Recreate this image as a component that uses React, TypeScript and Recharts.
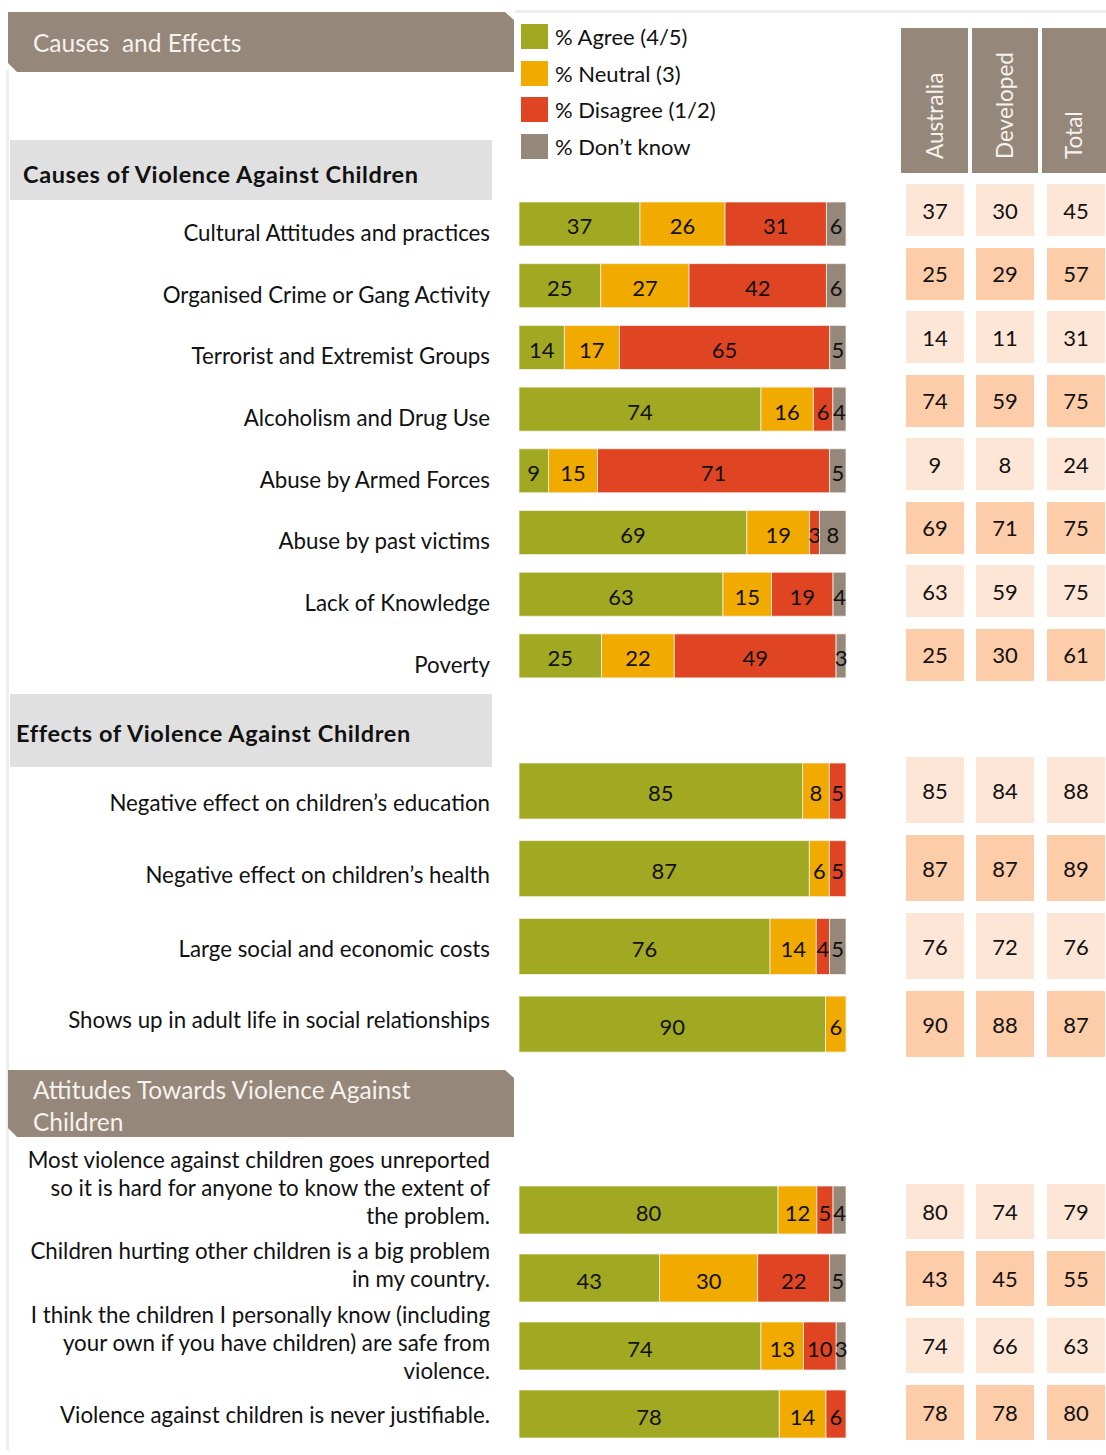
import React from 'react';
import { BarChart, Bar, XAxis, YAxis } from 'recharts';

// ---- data ----
const causeLabels = [
    ['Cultural Attitudes and practices'],
    ['Organised Crime or Gang Activity'],
    ['Terrorist and Extremist Groups'],
    ['Alcoholism and Drug Use'],
    ['Abuse by Armed Forces'],
    ['Abuse by past victims'],
    ['Lack of Knowledge'],
    ['Poverty'],
];
const causeAgree = [37, 25, 14, 74, 9, 69, 63, 25];
const causeNeutral = [26, 27, 17, 16, 15, 19, 15, 22];
const causeDisagree = [31, 42, 65, 6, 71, 3, 19, 49];
const causeDontKnow = [6, 6, 5, 4, 5, 8, 4, 3];
const causeAustralia = [37, 25, 14, 74, 9, 69, 63, 25];
const causeDeveloped = [30, 29, 11, 59, 8, 71, 59, 30];
const causeTotal = [45, 57, 31, 75, 24, 75, 75, 61];

const effectLabels = [
    ['Negative effect on children’s education'],
    ['Negative effect on children’s health'],
    ['Large social and economic costs'],
    ['Shows up in adult life in social relationships'],
];
const effectAgree = [85, 87, 76, 90];
const effectNeutral = [8, 6, 14, 6];
const effectDisagree = [5, 5, 4, 0];
const effectDontKnow = [0, 0, 5, 0];
const effectAustralia = [85, 87, 76, 90];
const effectDeveloped = [84, 87, 72, 88];
const effectTotal = [88, 89, 76, 87];

const attitudeLabels = [
    ['Most violence against children goes unreported', 'so it is hard for anyone to know the extent of', 'the problem.'],
    ['Children hurting other children is a big problem', 'in my country.'],
    ['I think the children I personally know (including', 'your own if you have children) are safe from', 'violence.'],
    ['Violence against children is never justifiable.'],
];
const attitudeAgree = [80, 43, 74, 78];
const attitudeNeutral = [12, 30, 13, 14];
const attitudeDisagree = [5, 22, 10, 6];
const attitudeDontKnow = [4, 5, 3, 0];
const attitudeAustralia = [80, 43, 74, 78];
const attitudeDeveloped = [74, 45, 66, 78];
const attitudeTotal = [79, 55, 63, 80];

const legendItems = ['% Agree (4/5)', '% Neutral (3)', '% Disagree (1/2)', '% Don’t know'];
const tableHeaders = ['Australia', 'Developed', 'Total'];

// ---- styling ----
const FONT = 'Lato, "Noto Sans", sans-serif';
const COLORS = { agree: '#a1a821', neutral: '#f1aa00', disagree: '#e04523', dk: '#958779' };
const TAUPE = '#958779';
const CELL_LIGHT = '#fee6d7';
const CELL_DARK = '#fdcca9';
const KEYS = ['agree', 'neutral', 'disagree', 'dk'] as const;

type Row = { name: string; lines: string[]; agree: number; neutral: number; disagree: number; dk: number };

function buildRows(labels: string[][], a: number[], n: number[], d: number[], k: number[]): Row[] {
    return labels.map((lines, i) => ({
        name: lines.join(' '),
        lines,
        agree: a[i],
        neutral: n[i],
        disagree: d[i],
        dk: k[i],
    }));
}

const causeRows = buildRows(causeLabels, causeAgree, causeNeutral, causeDisagree, causeDontKnow);
const effectRows = buildRows(effectLabels, effectAgree, effectNeutral, effectDisagree, effectDontKnow);
const attitudeRows = buildRows(attitudeLabels, attitudeAgree, attitudeNeutral, attitudeDisagree, attitudeDontKnow);

function segmentShape(key: string) {
    return (props: any) => {
        const { x, y, width, height, payload, fill } = props;
        const v = payload ? payload[key] : 0;
        if (!v || !width) return <g />;
        return (
            <g>
                <rect x={x} y={y} width={width} height={height} fill={fill} stroke="#f3efe6" strokeWidth={0.8} />
                <text
                    x={x + width / 2}
                    y={y + height / 2 + 2}
                    textAnchor="middle"
                    dominantBaseline="central"
                    fontSize={22}
                    fontFamily={FONT}
                    fill="#111"
                >
                    {v}
                </text>
            </g>
        );
    };
}

interface SectionProps {
    rows: Row[];
    top: number;
    rowGap: number;
    barSize: number;
    padTop: number;
    shift: number[];
}

function StackSection({ rows, top, rowGap, barSize, padTop, shift }: SectionProps) {
    const height = padTop + rows.length * rowGap;
    const renderTick = (props: any) => {
        const { y, index } = props;
        const row = rows[index];
        if (!row) return <g />;
        const n = row.lines.length;
        const base = y + (shift[index] ?? 0) + 7;
        return (
            <text x={490} textAnchor="end" fontSize={22.3} fontFamily={FONT} fill="#111">
                {row.lines.map((ln, i) => (
                    <tspan key={i} x={490} y={base + (i - (n - 1) / 2) * 28}>
                        {ln}
                    </tspan>
                ))}
            </text>
        );
    };
    return (
        <div style={{ position: 'absolute', left: 0, top: top - padTop }}>
            <BarChart
                width={850}
                height={height}
                data={rows}
                layout="vertical"
                stackOffset="expand"
                barCategoryGap={0}
                margin={{ top: padTop, right: 4, left: 0, bottom: 0 }}
            >
                <XAxis type="number" hide domain={[0, 1]} />
                <YAxis
                    type="category"
                    dataKey="name"
                    width={519}
                    axisLine={false}
                    tickLine={false}
                    interval={0}
                    tick={renderTick}
                />
                {KEYS.map((k) => (
                    <Bar
                        key={k}
                        dataKey={k}
                        stackId="s"
                        fill={COLORS[k]}
                        barSize={barSize}
                        isAnimationActive={false}
                        shape={segmentShape(k)}
                    />
                ))}
            </BarChart>
        </div>
    );
}

interface TableProps {
    cols: number[][];
    top: number;
    rowGap: number;
    cellH: number;
}

const cellX = [906, 976, 1047];

function ValueTable({ cols, top, rowGap, cellH }: TableProps) {
    const cells: React.ReactNode[] = [];
    cols.forEach((vals, c) => {
        vals.forEach((v, r) => {
            cells.push(
                <div
                    key={`${c}-${r}`}
                    style={{
                        position: 'absolute',
                        left: cellX[c],
                        top: top + r * rowGap,
                        width: 58,
                        height: cellH,
                        background: r % 2 === 0 ? CELL_LIGHT : CELL_DARK,
                        display: 'flex',
                        alignItems: 'center',
                        justifyContent: 'center',
                        fontSize: 22,
                        color: '#111',
                    }}
                >
                    {v}
                </div>
            );
        });
    });
    return <>{cells}</>;
}

const bannerClip = 'polygon(0 0, calc(100% - 9px) 0, 100% 8px, 100% 100%, 9px 100%, 0 calc(100% - 9px))';

export default function App() {
    return (
        <div
            style={{
                position: 'absolute',
                left: 0,
                top: 0,
                width: 1106,
                height: 1455,
                background: '#fff',
                fontFamily: FONT,
                overflow: 'hidden',
            }}
        >
            {/* frame lines */}
            <div style={{ position: 'absolute', left: 515, top: 10, width: 591, height: 3, background: '#efeeec' }} />
            <div style={{ position: 'absolute', left: 6, top: 70, width: 3, height: 1380, background: '#efeeec' }} />

            {/* banner */}
            <div
                style={{
                    position: 'absolute',
                    left: 8,
                    top: 12,
                    width: 506,
                    height: 60,
                    background: TAUPE,
                    clipPath: bannerClip,
                    color: '#f6f2ee',
                    fontSize: 24.5,
                    lineHeight: '62px',
                    paddingLeft: 25,
                    boxSizing: 'border-box',
                    whiteSpace: 'pre',
                }}
            >
                {'Causes  and Effects'}
            </div>

            {/* section headings */}
            <div
                style={{
                    position: 'absolute',
                    left: 10,
                    top: 140,
                    width: 482,
                    height: 60,
                    background: '#e0e0e0',
                    fontWeight: 700,
                    fontSize: 23.5,
                    letterSpacing: 0.6,
                    lineHeight: '68px',
                    paddingLeft: 13,
                    boxSizing: 'border-box',
                    color: '#111',
                    whiteSpace: 'nowrap',
                }}
            >
                Causes of Violence Against Children
            </div>
            <div
                style={{
                    position: 'absolute',
                    left: 10,
                    top: 694,
                    width: 482,
                    height: 73,
                    background: '#e0e0e0',
                    fontWeight: 700,
                    fontSize: 23.5,
                    letterSpacing: 0.6,
                    lineHeight: '78px',
                    paddingLeft: 6,
                    boxSizing: 'border-box',
                    color: '#111',
                    whiteSpace: 'nowrap',
                }}
            >
                Effects of Violence Against Children
            </div>
            <div
                style={{
                    position: 'absolute',
                    left: 8,
                    top: 1070,
                    width: 506,
                    height: 67,
                    background: TAUPE,
                    clipPath: bannerClip,
                    color: '#f6f2ee',
                    fontSize: 24.5,
                    lineHeight: '32px',
                    paddingLeft: 25,
                    paddingTop: 4,
                    boxSizing: 'border-box',
                }}
            >
                Attitudes Towards Violence Against
                <br />
                Children
            </div>

            {/* legend */}
            {legendItems.map((t, i) => (
                <div key={t} style={{ position: 'absolute', left: 521, top: 24 + i * 36.7, height: 25, display: 'flex', alignItems: 'center' }}>
                    <div style={{ width: 27, height: 25, background: COLORS[KEYS[i]] }} />
                    <span style={{ marginLeft: 7, fontSize: 22, color: '#111', whiteSpace: 'nowrap' }}>{t}</span>
                </div>
            ))}

            {/* table headers */}
            {tableHeaders.map((h, i) => (
                <div
                    key={h}
                    style={{
                        position: 'absolute',
                        left: [901, 972, 1042][i],
                        top: 28,
                        width: [67, 66, 64][i],
                        height: 145,
                        background: TAUPE,
                    }}
                >
                    <div
                        style={{
                            position: 'absolute',
                            left: '50%',
                            top: 131,
                            transform: 'rotate(-90deg)',
                            transformOrigin: '0 0',
                            marginLeft: -13,
                            color: '#f6f2ee',
                            fontSize: 22.5,
                            lineHeight: '26px',
                            whiteSpace: 'nowrap',
                        }}
                    >
                        {h}
                    </div>
                </div>
            ))}

            {/* bars */}
            <StackSection rows={causeRows} top={193} rowGap={61.7} barSize={44} padTop={0} shift={[10, 10, 10, 10, 10, 10, 10, 10]} />
            <StackSection rows={effectRows} top={752} rowGap={77.7} barSize={56} padTop={0} shift={[13, 7, 4, -3]} />
            <StackSection rows={attitudeRows} top={1176} rowGap={68} barSize={48} padTop={45} shift={[-21, -12, -2, 2]} />

            {/* tables */}
            <ValueTable cols={[causeAustralia, causeDeveloped, causeTotal]} top={184} rowGap={63.5} cellH={52} />
            <ValueTable cols={[effectAustralia, effectDeveloped, effectTotal]} top={757} rowGap={78} cellH={66} />
            <ValueTable cols={[attitudeAustralia, attitudeDeveloped, attitudeTotal]} top={1184} rowGap={67} cellH={55} />
        </div>
    );
}
